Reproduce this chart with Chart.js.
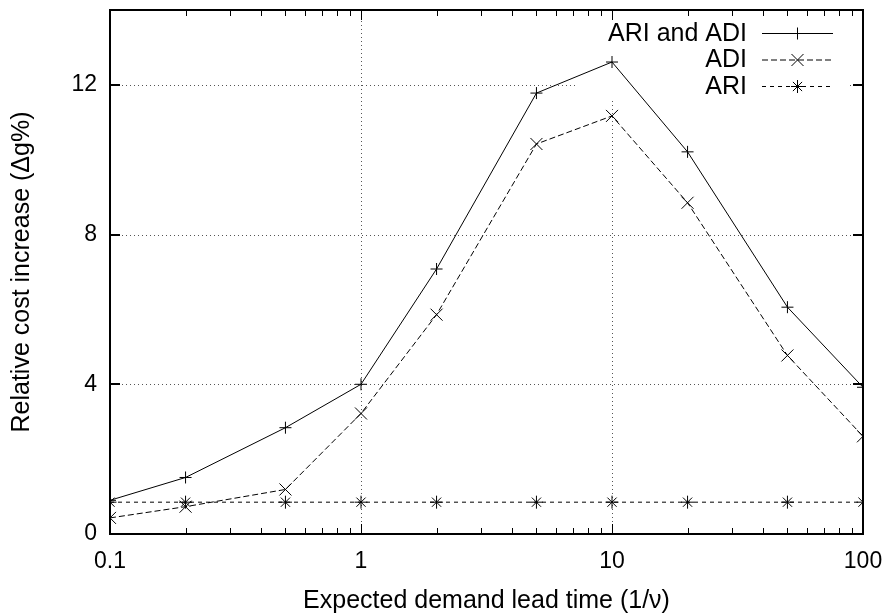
<!DOCTYPE html>
<html>
<head>
<meta charset="utf-8">
<script src="https://cdn.jsdelivr.net/npm/chart.js@4.4.0/dist/chart.umd.min.js"></script>
<style>
    body { margin: 0; background: #fff; }
    #wrap { width: 890px; height: 616px; }
</style>
</head>
<body>
<div id="wrap"><canvas id="chart" width="890" height="616"></canvas></div>
<script>
// Data
const leadTimes = [0.1, 0.2, 0.5, 1, 2, 5, 10, 20, 50, 100];
const ariAndAdi = [0.9, 1.51, 2.84, 4.0, 7.08, 11.78, 12.61, 10.21, 6.06, 3.92];
const adiOnly = [0.43, 0.73, 1.19, 3.22, 5.86, 10.42, 11.17, 8.85, 4.77, 2.61];
const ariOnly = [0.85, 0.85, 0.85, 0.85, 0.85, 0.85, 0.85, 0.85, 0.85, 0.85];
const seriesNames = ['ARI and ADI', 'ADI', 'ARI'];
const xTickValues = [0.1, 1, 10, 100];
const yTickValues = [0, 4, 8, 12];

const FONT = '"Liberation Sans", Arial, Helvetica, sans-serif';

function toPoints(values) {
    return leadTimes.map((x, i) => ({ x: x, y: values[i] }));
}

// gnuplot-like frame, inward ticks, dotted grid and boxed key
const gnuplotFrame = {
    id: 'gnuplotFrame',
    beforeDatasetsDraw(chart) {
        const { ctx, chartArea: a, scales: { x, y } } = chart;
        ctx.save();
        ctx.strokeStyle = '#555';
        ctx.lineWidth = 1;
        ctx.setLineDash([1, 3]);
        xTickValues.slice(1, -1).forEach(v => {
            const px = Math.round(x.getPixelForValue(v)) + 0.5;
            ctx.beginPath(); ctx.moveTo(px, a.bottom); ctx.lineTo(px, a.top); ctx.stroke();
        });
        yTickValues.slice(1).forEach(v => {
            const py = Math.round(y.getPixelForValue(v)) + 0.5;
            ctx.beginPath(); ctx.moveTo(a.left, py); ctx.lineTo(a.right, py); ctx.stroke();
        });
        ctx.setLineDash([]);
        // key background hides the grid
        ctx.fillStyle = '#fff';
        ctx.fillRect(a.right - 285, a.top + 6, 270, 83);
        ctx.restore();
    },
    afterDraw(chart) {
        const { ctx, chartArea: a, scales: { x, y } } = chart;
        ctx.save();
        ctx.strokeStyle = '#000';
        // minor + major ticks on the log axis
        ctx.lineWidth = 1;
        for (let d = 0.1; d < 100; d *= 10) {
            for (let m = 1; m <= 10; m++) {
                const v = d * m;
                const px = Math.round(x.getPixelForValue(v)) + 0.5;
                const len = (m === 1 || m === 10) ? 10 : 6;
                ctx.beginPath();
                ctx.moveTo(px, a.bottom); ctx.lineTo(px, a.bottom - len);
                ctx.moveTo(px, a.top); ctx.lineTo(px, a.top + len);
                ctx.stroke();
            }
        }
        ctx.lineWidth = 2;
        yTickValues.forEach(v => {
            const py = Math.round(y.getPixelForValue(v));
            ctx.beginPath();
            ctx.moveTo(a.left, py); ctx.lineTo(a.left + 10, py);
            ctx.moveTo(a.right, py); ctx.lineTo(a.right - 10, py);
            ctx.stroke();
        });
        ctx.strokeRect(a.left, a.top, a.right - a.left, a.bottom - a.top);

        // key
        ctx.font = '25px ' + FONT;
        ctx.textAlign = 'right';
        ctx.textBaseline = 'middle';
        ctx.fillStyle = '#000';
        chart.data.datasets.forEach((ds, i) => {
            const rowY = a.top + 23 + i * 26.5;
            ctx.fillText(ds.label, a.right - 116, rowY + 1);
            const x0 = a.right - 101, x1 = a.right - 30;
            ctx.lineWidth = 1;
            ctx.setLineDash(ds.borderDash || []);
            ctx.beginPath(); ctx.moveTo(x0, rowY + 0.5); ctx.lineTo(x1, rowY + 0.5); ctx.stroke();
            ctx.setLineDash([]);
            Chart.helpers.drawPoint(ctx, {
                pointStyle: ds.pointStyle, radius: ds.pointRadius, borderWidth: 1
            }, (x0 + x1) / 2, rowY + 0.5);
        });
        ctx.restore();
    }
};

const ctx = document.getElementById('chart').getContext('2d');
const chart = new Chart(ctx, {
    type: 'scatter',
    data: {
        datasets: [{
            label: seriesNames[0],
            data: toPoints(ariAndAdi),
            pointStyle: 'cross',
            pointRadius: 6,
            borderDash: []
        }, {
            label: seriesNames[1],
            data: toPoints(adiOnly),
            pointStyle: 'crossRot',
            pointRadius: 8.5,
            borderDash: [6, 3]
        }, {
            label: seriesNames[2],
            data: toPoints(ariOnly),
            pointStyle: 'star',
            pointRadius: 6.5,
            borderDash: [4, 4]
        }].map(ds => Object.assign(ds, {
            showLine: true,
            borderColor: '#000',
            backgroundColor: '#000',
            borderWidth: 1,
            pointBorderWidth: 1,
            pointHoverRadius: ds.pointRadius,
            tension: 0
        }))
    },
    options: {
        responsive: false,
        animation: false,
        events: [],
        layout: { padding: 0 },
        plugins: {
            legend: { display: false },
            tooltip: { enabled: false }
        },
        scales: {
            x: {
                type: 'logarithmic',
                min: 0.1,
                max: 100,
                afterBuildTicks: s => { s.ticks = xTickValues.map(v => ({ value: v })); },
                afterFit: s => { s.height = 82; s.paddingLeft = 0; s.paddingRight = 27; },
                grid: { display: false, drawTicks: false },
                border: { display: false },
                ticks: {
                    color: '#000',
                    padding: 14,
                    maxRotation: 0,
                    autoSkip: false,
                    font: { family: FONT, size: 23 },
                    callback: v => String(v)
                },
                title: {
                    display: true,
                    text: 'Expected demand lead time (1/ν)',
                    color: '#000',
                    font: { family: FONT, size: 25 },
                    padding: { top: 0, bottom: 0 }
                }
            },
            y: {
                min: 0,
                max: 14,
                afterBuildTicks: s => { s.ticks = yTickValues.map(v => ({ value: v })); },
                afterFit: s => { s.width = 110; s.paddingTop = 10; s.paddingBottom = 0; },
                grid: { display: false, drawTicks: false },
                border: { display: false },
                ticks: {
                    color: '#000',
                    padding: 13,
                    font: { family: FONT, size: 23 }
                },
                title: {
                    display: true,
                    text: 'Relative cost increase (Δg%)',
                    color: '#000',
                    font: { family: FONT, size: 25 },
                    padding: { top: 7, bottom: 0 }
                }
            }
        }
    },
    plugins: [gnuplotFrame]
});
</script>
</body>
</html>
